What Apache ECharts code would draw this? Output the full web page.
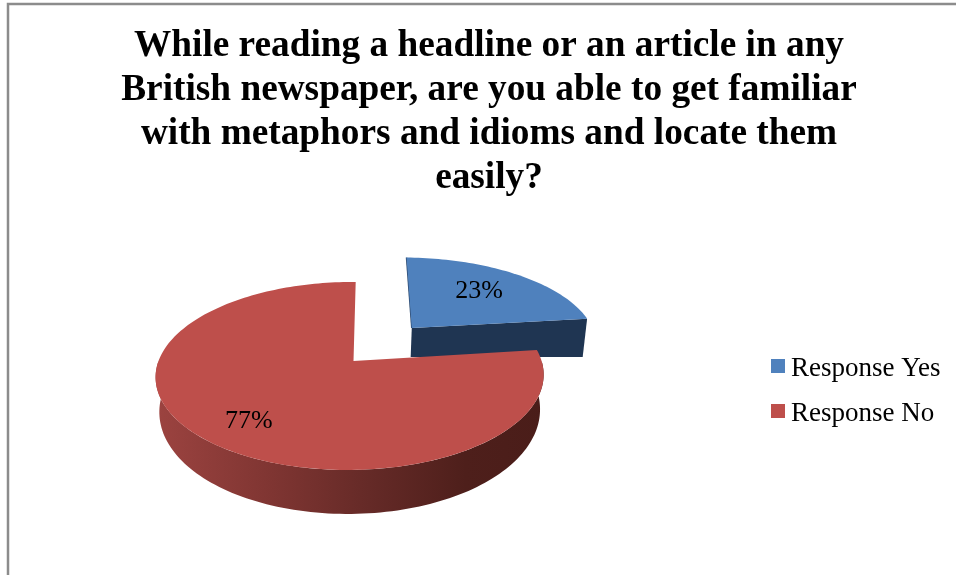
<!DOCTYPE html>
<html>
<head>
<meta charset="utf-8">
<style>html,body{margin:0;padding:0;background:#fff}#c{width:956px;height:575px}</style>
<script src="https://cdn.jsdelivr.net/npm/echarts@6/dist/echarts.min.js"></script>
</head>
<body>
<div id="c"></div>
<script>
const titleLines = [
  "While reading a headline or an article in any",
  "British newspaper, are you able to get familiar",
  "with metaphors and idioms and locate them",
  "easily?"
];
const categories = ["Response Yes", "Response No"];
const values = [23, 77];

const FONT = '"Liberation Serif","Times New Roman",serif';
const topColors = ["#4F81BD", "#BE4F4B"];
// Perspective model of the tilted disc
const cam = {xc: 353.5, yc: 361, a: 191.5, b: 91.6, k: 0.159, m: 0.018, skew: 2.2, shrink: 0.981};
const explode = [[0.32, 0.385], [0, 0]];
const widen = [1.03, 1];
const labelRadius = [0.62, 0.77];
const labelShift = [[2, -2], [5, 1]];
const total = values.reduce((s, v) => s + v, 0);

function project(u, v) {
  const w = 1 + cam.k * v + cam.m * u;
  return [cam.xc + cam.a * u / w + cam.skew * v, cam.yc - cam.b * v / w];
}
function sliceAngles(i) {
  let start = 0;
  for (let j = 0; j < i; j++) start += values[j] / total * 2 * Math.PI;
  return [start, start + values[i] / total * 2 * Math.PI];
}
function wallDrop(i, u, v, u0) {
  return i === 0 ? 29 + (u - u0) * 9.07 : 33 - 11 * v;
}
function renderSlice(i) {
  const [a0, a1] = sliceAngles(i);
  const mid = (a0 + a1) / 2;
  const u0 = explode[i][0], v0 = explode[i][1];
  const pt = t => [u0 + widen[i] * Math.sin(t), v0 + Math.cos(t)];
  const under = (u, v) => {
    const p = project(u, v);
    return [cam.xc + (p[0] - cam.xc) * cam.shrink, p[1] + wallDrop(i, u, v, u0)];
  };
  const children = [];
  if (i === 0) {
    const end = pt(a1), first = pt(a0);
    const apex = project(u0, v0), tip = project(first[0], first[1]);
    children.push({type: 'polyline', shape: {points: [tip, apex]},
      style: {fill: 'none', stroke: '#2C4A70', lineWidth: 1.5}});
    children.push({type: 'polygon', shape: {points: [
      apex, project(end[0], end[1]), under(end[0], end[1]), under(u0, v0)
    ]}, style: {fill: '#1F3552'}});
  } else {
    const from = Math.max(a0, Math.PI / 2), to = Math.min(a1, 3 * Math.PI / 2);
    const upper = [], lower = [];
    for (let n = 0; n <= 120; n++) {
      const t = from + (to - from) * n / 120;
      const q = pt(t);
      upper.push(project(q[0], q[1]));
      lower.unshift(under(q[0], q[1]));
    }
    children.push({type: 'polygon', shape: {points: upper.concat(lower)}, style: {
      fill: new echarts.graphic.LinearGradient(0, 0, 1, 0, [
        {offset: 0, color: '#9C4340'},
        {offset: 0.3, color: '#7F3532'},
        {offset: 0.55, color: '#652A27'},
        {offset: 0.8, color: '#4E1F1B'},
        {offset: 1, color: '#4A1D19'}
      ])
    }});
  }
  const face = [project(u0, v0)];
  const steps = Math.ceil((a1 - a0) * 40);
  for (let n = 0; n <= steps; n++) {
    const q = pt(a0 + (a1 - a0) * n / steps);
    face.push(project(q[0], q[1]));
  }
  children.push({type: 'polygon', shape: {points: face}, style: {fill: topColors[i]}});
  const lp = project(u0 + labelRadius[i] * Math.sin(mid), v0 + labelRadius[i] * Math.cos(mid));
  children.push({type: 'text', z2: 10, style: {
    x: lp[0] + labelShift[i][0], y: lp[1] + labelShift[i][1],
    text: Math.round(values[i] / total * 100) + '%',
    align: 'center', verticalAlign: 'middle', fill: '#000', font: '26px ' + FONT
  }});
  return {type: 'group', children};
}

const chart = echarts.init(document.getElementById('c'), null, {renderer: 'canvas'});
chart.setOption({
  animation: false,
  backgroundColor: '#fff',
  title: {
    text: titleLines.join('\n'), left: 484, top: 19, textAlign: 'center',
    textStyle: {fontFamily: FONT, fontWeight: 'bold', fontSize: 37.3, lineHeight: 44, color: '#000'}
  },
  legend: {
    orient: 'vertical', left: 766, top: 347, itemWidth: 14, itemHeight: 20, itemGap: 11,
    icon: 'path://M0,0L14,0L14,14L0,14Z M0,20L0,20', data: categories,
    textStyle: {fontFamily: FONT, fontSize: 27, color: '#000', padding: [7, 0, 0, 1], lineHeight: 27}
  },
  graphic: [{
    type: 'polyline', silent: true,
    shape: {points: [[8, 575], [8, 4], [956, 4]]},
    style: {stroke: '#8C8C8C', lineWidth: 2.5, fill: null}
  }],
  series: categories.map((name, i) => ({
    type: 'custom', name, coordinateSystem: 'none',
    itemStyle: {color: topColors[i]},
    data: [values[i]],
    renderItem: () => renderSlice(i)
  }))
});
</script>
</body>
</html>
